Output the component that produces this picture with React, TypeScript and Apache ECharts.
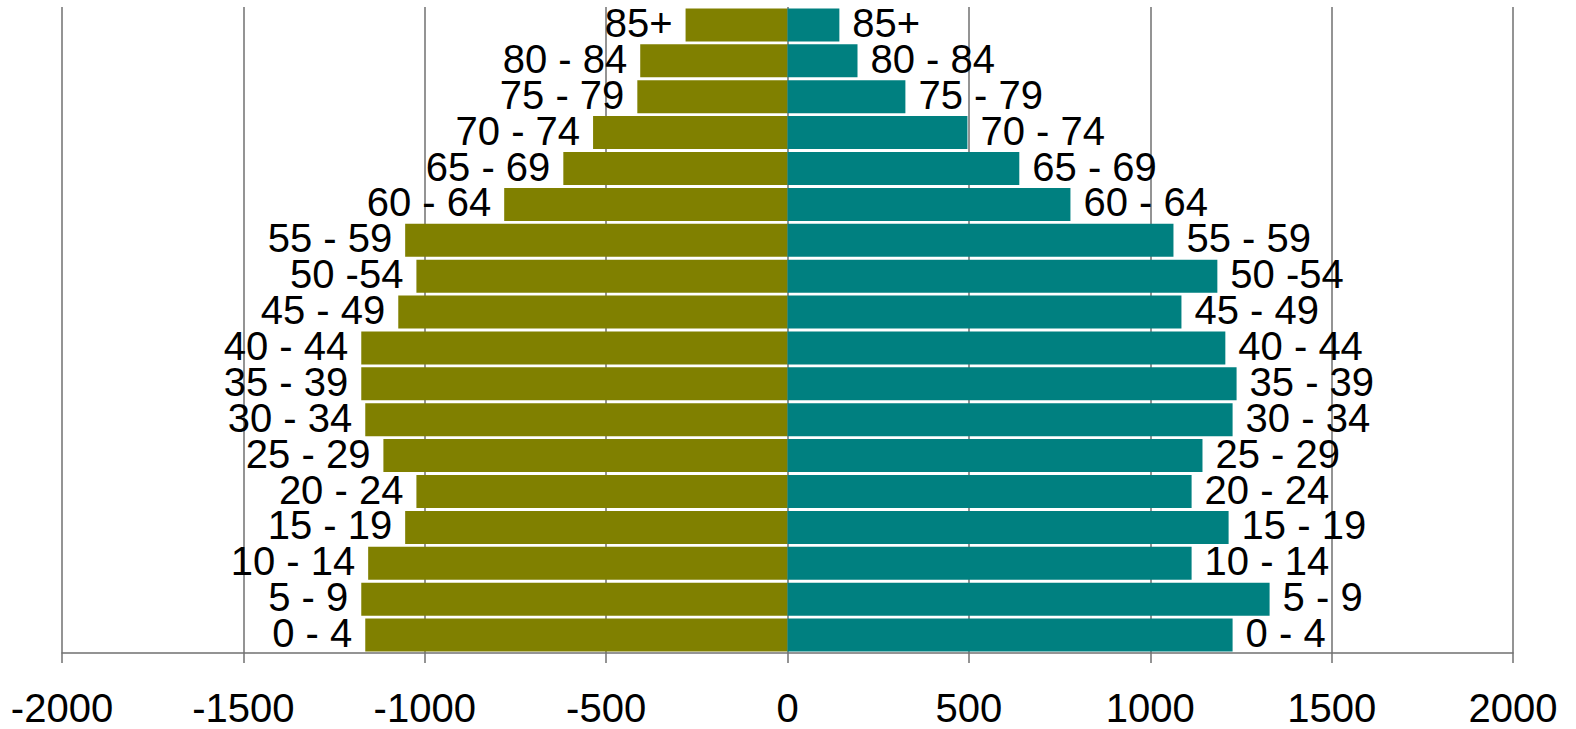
import React, { useEffect, useRef } from "react";
import * as echarts from "echarts";

const categories = [
  "0 - 4", "5 - 9", "10 - 14", "15 - 19", "20 - 24", "25 - 29", "30 - 34",
  "35 - 39", "40 - 44", "45 - 49", "50 -54", "55 - 59", "60 - 64", "65 - 69",
  "70 - 74", "75 - 79", "80 - 84", "85+",
];

// left side (olive), plotted as negative values
const leftValues = [
  1164, 1175, 1156, 1054, 1023, 1114, 1164, 1175, 1175, 1073, 1023, 1054,
  781, 618, 536, 414, 406, 281,
];

// right side (teal)
const rightValues = [
  1227, 1329, 1114, 1216, 1114, 1144, 1227, 1238, 1207, 1086, 1185, 1064,
  780, 639, 496, 325, 193, 143,
];

const xTicks = { min: -2000, max: 2000, interval: 500 };

const FONT = "'Liberation Sans', Arial, sans-serif";

export default function App() {
  const ref = useRef<HTMLDivElement>(null);

  useEffect(() => {
    document.body.style.margin = "0";
    if (!ref.current) return;
    const chart = echarts.init(ref.current, undefined, { renderer: "svg" });
    const labelBase = {
      show: true,
      formatter: "{b}",
      fontSize: 40,
      fontFamily: FONT,
      color: "#000",
      distance: 13,
      offset: [0, -2],
    };
    chart.setOption({
      animation: false,
      backgroundColor: "#fff",
      grid: { left: 62, right: 63, top: 7, bottom: 76, containLabel: false },
      xAxis: {
        type: "value",
        min: xTicks.min,
        max: xTicks.max,
        interval: xTicks.interval,
        axisLine: { show: true, lineStyle: { color: "#707070", width: 1.5 } },
        axisTick: { show: true, length: 10, lineStyle: { color: "#707070", width: 1.5 } },
        splitLine: { show: true, lineStyle: { color: "#707070", width: 1.5 } },
        axisLabel: {
          fontSize: 40,
          fontFamily: FONT,
          color: "#000",
          margin: 35,
          formatter: (v: number) => String(v),
        },
      },
      yAxis: {
        type: "category",
        data: categories,
        axisLine: { show: false },
        axisTick: { show: false },
        axisLabel: { show: false },
        splitLine: { show: false },
      },
      series: [
        {
          type: "bar",
          data: leftValues.map((v) => -v),
          itemStyle: { color: "#808000" },
          barCategoryGap: "8%",
          barGap: "-100%",
          label: { ...labelBase, position: "left" },
        },
        {
          type: "bar",
          data: rightValues,
          itemStyle: { color: "#008080" },
          barCategoryGap: "8%",
          barGap: "-100%",
          label: { ...labelBase, position: "right" },
        },
      ],
    });
    return () => chart.dispose();
  }, []);

  return <div ref={ref} style={{ width: 1576, height: 729 }} />;
}
